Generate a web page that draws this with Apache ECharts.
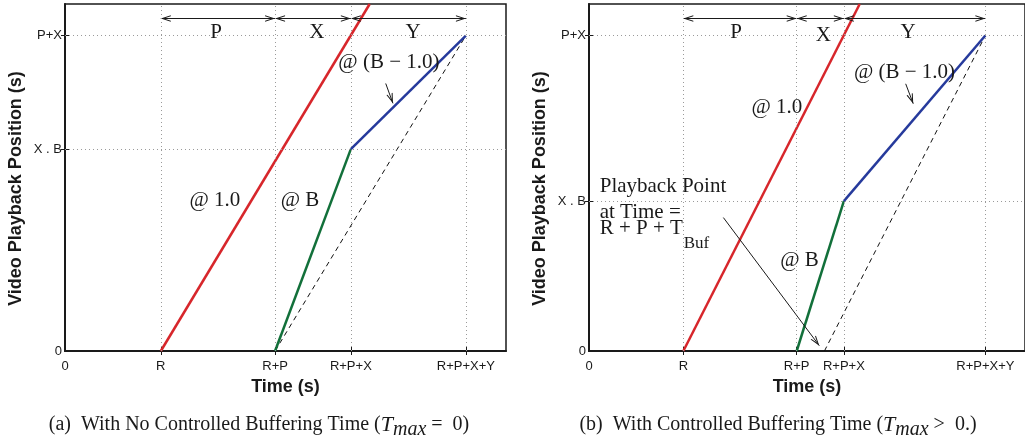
<!DOCTYPE html>
<html>
<head>
<meta charset="utf-8">
<script src="https://cdn.jsdelivr.net/npm/echarts@6/dist/echarts.min.js"></script>
<style>
  html, body { margin: 0; padding: 0; background: #fff; }
  #chart { width: 1025px; height: 445px; }
</style>
</head>
<body>
<div id="chart"></div>
<script>
// ---- Panel (a): no controlled buffering ----
const aXTicks = [0, 2.39, 5.24, 7.13, 10];
const aXLabels = ['0', 'R', 'R+P', 'R+P+X', 'R+P+X+Y'];
const aYTicks = [0, 6.4, 10];
const aYLabels = ['0', 'X . B', 'P+X'];
const aRate1 = [[2.39, 0], [7.6, 11]];          // @ 1.0
const aRateB = [[5.24, 0], [7.13, 6.4]];        // @ B
const aRateB1 = [[7.13, 6.4], [10, 10]];        // @ (B - 1.0)
const aPlayback = [[5.24, 0], [10, 10]];        // playback point
const aSpans = [[2.39, 5.24], [5.24, 7.13], [7.13, 10]];
const aSpanY = 10.54;

// ---- Panel (b): with controlled buffering ----
const bXTicks = [0, 2.38, 5.24, 6.43, 10];
const bXLabels = ['0', 'R', 'R+P', 'R+P+X', 'R+P+X+Y'];
const bYTicks = [0, 4.75, 10];
const bYLabels = ['0', 'X . B', 'P+X'];
const bRate1 = [[2.38, 0], [6.83, 11]];
const bRateB = [[5.24, 0], [6.43, 4.75]];
const bRateB1 = [[6.43, 4.75], [10, 10]];
const bPlayback = [[5.94, 0], [10, 10]];
const bSpans = [[2.38, 5.24], [5.24, 6.43], [6.43, 10]];
const bSpanY = 10.54;

// Text annotations in data units: [text, x, y, anchor, fontSize]
const aNotes = [
  ['P', 3.77, 10.09, 'c', 21], ['X', 6.28, 10.09, 'c', 21], ['Y', 8.68, 10.09, 'c', 21],
  ['@ (B \u2212 1.0)', 8.08, 9.15, 'c', 21],
  ['@ 1.0', 3.74, 4.78, 'c', 21],
  ['@ B', 5.86, 4.78, 'c', 21]
];
const bNotes = [
  ['P', 3.71, 10.09, 'c', 21], ['X', 5.91, 10.0, 'c', 21], ['Y', 8.05, 10.09, 'c', 21],
  ['@ 1.0', 4.74, 7.72, 'c', 21],
  ['@ (B \u2212 1.0)', 7.96, 8.83, 'c', 21],
  ['Playback Point', 0.27, 5.22, 'l', 21],
  ['at Time =', 0.27, 4.40, 'l', 21],
  ['R + P + T', 0.27, 3.89, 'l', 21],
  ['Buf', 2.39, 3.42, 'l', 17],
  ['@ B', 5.31, 2.88, 'c', 21]
];
// Pointer arrows: [from, to]
const aPointers = [[[8.0, 8.48], [8.18, 7.85]]];
const bPointers = [[[7.99, 8.47], [8.18, 7.84]], [[3.39, 4.23], [5.81, 0.17]]];

const SANS = 'Liberation Sans, Arial, sans-serif';
const SERIF = 'Liberation Serif, Times New Roman, serif';
const INK = '#1a1a1a';
const RED = '#d7262b';
const GREEN = '#12703a';
const BLUE = '#263a9c';

// Open chevron arrow head in a square box, tip at the box centre.
const CHEV = 'path://M0,0 L0.01,0 L0,0.01 Z M20,0 L19.99,0 L20,0.01 Z ' +
  'M10,10 L13.3,20 L12.2,20 L10,13.2 L7.8,20 L6.7,20 Z';

function pickLabel(ticks, labels) {
  return function (v) {
    let best = -1, bd = 1e9;
    ticks.forEach(function (t, i) { const d = Math.abs(t - v); if (d < bd) { bd = d; best = i; } });
    return bd < 1e-6 ? labels[best] : '';
  };
}

function bottomAxis(grid, ticks, labels) {
  return {
    type: 'value', gridIndex: grid, position: 'bottom', min: 0, max: 11,
    name: 'Time (s)', nameLocation: 'middle', nameGap: 27,
    nameTextStyle: { fontFamily: SANS, fontWeight: 'bold', fontSize: 18, color: INK },
    axisLine: { show: true, lineStyle: { color: INK, width: 2 } },
    axisTick: { show: true, inside: true, length: 4, customValues: ticks, lineStyle: { color: INK } },
    axisLabel: { show: true, customValues: ticks, formatter: pickLabel(ticks, labels), margin: 9,
      fontFamily: SANS, fontSize: 13, color: INK, hideOverlap: false, showMinLabel: true, showMaxLabel: true },
    splitLine: { show: false }
  };
}
function topAxis(grid, ticks) {
  return {
    type: 'value', gridIndex: grid, position: 'top', min: 0, max: 11,
    axisLine: { show: false },
    axisTick: { show: true, inside: true, length: 4, customValues: ticks.slice(1), lineStyle: { color: INK } },
    axisLabel: { show: false }, splitLine: { show: false }
  };
}
function leftAxis(grid, ticks, labels) {
  return {
    type: 'value', gridIndex: grid, position: 'left', min: 0, max: 11,
    name: 'Video Playback Position (s)', nameLocation: 'middle', nameGap: 40,
    nameTextStyle: { fontFamily: SANS, fontWeight: 'bold', fontSize: 18, color: INK, padding: [0, 22, 0, 0] },
    axisLine: { show: true, lineStyle: { color: INK, width: 2 } },
    axisTick: { show: true, inside: true, length: 4, customValues: ticks, lineStyle: { color: INK } },
    axisLabel: { show: true, customValues: ticks, formatter: pickLabel(ticks, labels), margin: 3,
      fontFamily: SANS, fontSize: 13, color: INK, showMinLabel: true, showMaxLabel: true },
    splitLine: { show: false }
  };
}
function rightAxis(grid, ticks) {
  return {
    type: 'value', gridIndex: grid, position: 'right', min: 0, max: 11,
    axisLine: { show: false },
    axisTick: { show: true, inside: true, length: 4, customValues: ticks.slice(1), lineStyle: { color: INK } },
    axisLabel: { show: false }, splitLine: { show: false }
  };
}

function panelSeries(ax, xt, yt, r1, rb, rb1, pb, spans, spanY, notes, pointers) {
  const s = [];
  // dotted grid lines at the labelled positions
  s.push({
    type: 'line', xAxisIndex: ax, yAxisIndex: ax, data: [], silent: true, z: 1,
    markLine: {
      silent: true, symbol: ['none', 'none'], label: { show: false }, animation: false,
      lineStyle: { color: '#9a9a9a', width: 1, type: [1, 3] },
      data: xt.slice(1).map(function (v) { return { xAxis: v }; })
        .concat(yt.slice(1).map(function (v) { return { yAxis: v }; }))
    }
  });
  function seg(data, color, width, type) {
    return { type: 'line', xAxisIndex: ax, yAxisIndex: ax, data: data, showSymbol: false, symbol: 'none',
      silent: true, z: 3, animation: false, lineStyle: { color: color, width: width, type: type || 'solid' } };
  }
  s.push(seg(pb, '#111', 1, [5, 4]));
  s.push(seg(r1, RED, 2.5));
  s.push(seg(rb, GREEN, 2.5));
  s.push(seg(rb1, BLUE, 2.5));
  // double-headed span arrows along the top
  s.push({
    type: 'lines', coordinateSystem: 'cartesian2d', xAxisIndex: ax, yAxisIndex: ax, silent: true, z: 4,
    animation: false, symbol: [CHEV, CHEV], symbolSize: 20,
    lineStyle: { color: INK, width: 1, opacity: 1 }, itemStyle: { color: INK },
    data: spans.map(function (p) { return { coords: [[p[0], spanY], [p[1], spanY]] }; })
  });
  // pointer arrows
  s.push({
    type: 'lines', coordinateSystem: 'cartesian2d', xAxisIndex: ax, yAxisIndex: ax, silent: true, z: 4,
    animation: false, symbol: ['none', CHEV], symbolSize: 20,
    lineStyle: { color: INK, width: 1, opacity: 1 }, itemStyle: { color: INK },
    data: pointers.map(function (p) { return { coords: [p[0], p[1]] }; })
  });
  // text annotations
  s.push({
    type: 'scatter', xAxisIndex: ax, yAxisIndex: ax, symbolSize: 0, silent: true, z: 5, animation: false,
    itemStyle: { opacity: 1 },
    data: notes.map(function (n) {
      return {
        value: [n[1], n[2]],
        label: {
          show: true, formatter: n[0], position: n[3] === 'l' ? 'right' : 'inside', distance: 0,
          fontFamily: SERIF, fontSize: n[4], color: INK, opacity: 1
        }
      };
    })
  });
  return s;
}

const chart = echarts.init(document.getElementById('chart'), null, { renderer: 'canvas' });
const captionRich = {
  it: { fontFamily: SERIF, fontStyle: 'italic', fontSize: 22, color: INK },
  sub: { fontFamily: SERIF, fontStyle: 'italic', fontSize: 20, color: INK, padding: [10, 0, 0, 0] }
};
chart.setOption({
  animation: false,
  backgroundColor: '#fff',
  grid: [
    { left: 65, top: 4, width: 441, height: 347, show: true, borderColor: INK, borderWidth: 1.5, backgroundColor: 'transparent' },
    { left: 589, top: 4, width: 441, height: 347, show: true, borderColor: INK, borderWidth: 1.5, backgroundColor: 'transparent' }
  ],
  xAxis: [bottomAxis(0, aXTicks, aXLabels), topAxis(0, aXTicks), bottomAxis(1, bXTicks, bXLabels), topAxis(1, bXTicks)],
  yAxis: [leftAxis(0, aYTicks, aYLabels), rightAxis(0, aYTicks), leftAxis(1, bYTicks, bYLabels), rightAxis(1, bYTicks)],
  series: [].concat(
    panelSeries(0, aXTicks, aYTicks, aRate1, aRateB, aRateB1, aPlayback, aSpans, aSpanY, aNotes, aPointers),
    panelSeries(2, bXTicks, bYTicks, bRate1, bRateB, bRateB1, bPlayback, bSpans, bSpanY, bNotes, bPointers)
  ),
  graphic: [
    { type: 'text', x: 259, y: 425, silent: true,
      style: { text: '(a)  With No Controlled Buffering Time ({it|T}{sub|max} =  0)', rich: captionRich,
        font: '20px ' + SERIF, fill: INK, align: 'center', verticalAlign: 'middle' } },
    { type: 'text', x: 778, y: 425, silent: true,
      style: { text: '(b)  With Controlled Buffering Time ({it|T}{sub|max} >  0.)', rich: captionRich,
        font: '20px ' + SERIF, fill: INK, align: 'center', verticalAlign: 'middle' } }
  ]
});
</script>
</body>
</html>
